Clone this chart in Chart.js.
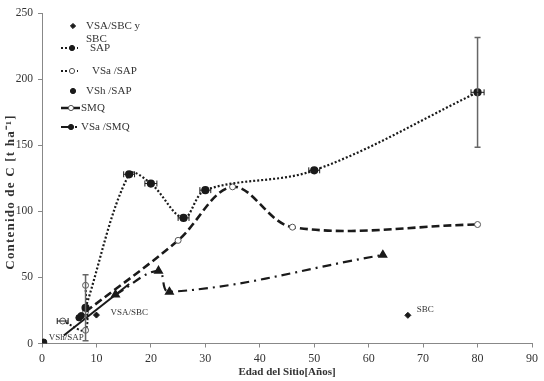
<!DOCTYPE html>
<html>
<head>
<meta charset="utf-8">
<script src="https://cdn.jsdelivr.net/npm/chart.js@4.4.1/dist/chart.umd.min.js"></script>
<style>
  html, body { margin: 0; padding: 0; background: #fff; }
  #wrap { width: 544px; height: 381px; }
</style>
</head>
<body>
<div id="wrap"><canvas id="c" width="544" height="381"></canvas></div>
<script>
  // ---------- Data ----------
  const sbcX = [10, 67.2];
  const sbcY = [21.5, 21.3];

  const trendX = [4, 16];
  const trendY = [6, 45];

  const sapX = [8, 16, 20, 26, 30, 50, 80];
  const sapY = [27, 128, 121, 95, 116, 131, 190];
  const sapErrX = [0, 1, 1.1, 1, 1, 1, 1.2];
  const sapErrY = [25, 0, 0, 0, 0, 0, 41.5];

  const vsaSapX = [3.8, 8, 8];
  const vsaSapY = [17, 10, 44];
  const vsaSapErrX = [1, 0, 0];

  const vshSapX = [0.3, 6.8, 7.2];
  const vshSapY = [1, 19.5, 21];

  const smqX = [8, 25, 35, 46, 80];
  const smqY = [24, 78, 118.5, 88, 90];

  const vsaSmqX = [13.5, 21.4, 23.4, 62.6];
  const vsaSmqY = [37, 55, 39, 67];

  const pointLabels = [
    { text: "VSA/SBC", x: 10, y: 21.5, dx: 14, dy: -2 },
    { text: "VSh/SAP", x: 0.3, y: 1, dx: 5, dy: -5 },
    { text: "SBC", x: 67.2, y: 21.3, dx: 9, dy: -6 }
  ];

  const X_MIN = 0, X_MAX = 90, X_STEP = 10;
  const Y_MIN = 0, Y_MAX = 250, Y_STEP = 50;
  const Y_TITLE = "Contenido de C [t ha⁻¹]";

  const INK = "#1a1a1a";
  const SERIF = "'Liberation Serif', 'Times New Roman', serif";

  const pts = (xs, ys) => xs.map((x, i) => ({ x: x, y: ys[i] }));

  // ---------- Datasets ----------
  const datasets = [
    {
      label: "VSA/SBC y SBC",
      data: pts(sbcX, sbcY),
      showLine: false,
      pointStyle: "rectRot",
      pointRadius: 3,
      pointBackgroundColor: INK,
      pointBorderColor: INK
    },
    {
      label: "trend",
      data: pts(trendX, trendY),
      showLine: true,
      borderColor: INK,
      borderWidth: 2,
      pointRadius: 0
    },
    {
      label: "SAP",
      data: pts(sapX, sapY),
      showLine: true,
      borderColor: INK,
      borderWidth: 2.2,
      borderDash: [2, 2],
      tension: 0.35,
      pointStyle: "circle",
      pointRadius: 3,
      pointBackgroundColor: INK,
      pointBorderColor: INK,
      errX: sapErrX,
      errY: sapErrY
    },
    {
      label: "VSa /SAP",
      data: pts(vsaSapX, vsaSapY),
      showLine: true,
      borderColor: INK,
      borderWidth: 2,
      borderDash: [2, 2],
      tension: 0.3,
      pointStyle: "circle",
      pointRadius: 3,
      pointBackgroundColor: "#fff",
      pointBorderColor: "#555",
      pointBorderWidth: 1,
      errX: vsaSapErrX
    },
    {
      label: "VSh /SAP",
      data: pts(vshSapX, vshSapY),
      showLine: false,
      pointStyle: "circle",
      pointRadius: 3.2,
      pointBackgroundColor: INK,
      pointBorderColor: INK
    },
    {
      label: "SMQ",
      data: pts(smqX, smqY),
      showLine: true,
      borderColor: INK,
      borderWidth: 2.6,
      borderDash: [8, 4],
      tension: 0.35,
      pointStyle: "circle",
      pointRadius: 3,
      pointBackgroundColor: "#fff",
      pointBorderColor: "#555",
      pointBorderWidth: 1
    },
    {
      label: "VSa /SMQ",
      data: pts(vsaSmqX, vsaSmqY),
      showLine: true,
      borderColor: INK,
      borderWidth: 2.2,
      borderDash: [9, 5, 2, 5],
      tension: 0.4,
      pointStyle: "triangle",
      pointRadius: 3.6,
      pointBackgroundColor: INK,
      pointBorderColor: INK,
      legendStyle: "circle"
    }
  ];

  // ---------- Plugins ----------
  const errorBars = {
    id: "errorBars",
    afterDatasetsDraw(chart) {
      const { ctx, scales: { x, y } } = chart;
      ctx.save();
      chart.data.datasets.forEach((ds) => {
        if (!ds.errX && !ds.errY) return;
        ds.data.forEach((p, i) => {
          const px = x.getPixelForValue(p.x);
          const py = y.getPixelForValue(p.y);
          const ey = ds.errY ? ds.errY[i] : 0;
          const ex = ds.errX ? ds.errX[i] : 0;
          if (ey) {
            const t = y.getPixelForValue(p.y + ey);
            const b = y.getPixelForValue(p.y - ey);
            ctx.strokeStyle = "#666";
            ctx.lineWidth = 1.5;
            ctx.beginPath();
            ctx.moveTo(px, t); ctx.lineTo(px, b);
            ctx.moveTo(px - 3, t); ctx.lineTo(px + 3, t);
            ctx.moveTo(px - 3, b); ctx.lineTo(px + 3, b);
            ctx.stroke();
          }
          if (ex) {
            const l = x.getPixelForValue(p.x - ex);
            const r = x.getPixelForValue(p.x + ex);
            ctx.strokeStyle = INK;
            ctx.lineWidth = 1;
            ctx.beginPath();
            ctx.moveTo(l, py); ctx.lineTo(r, py);
            ctx.moveTo(l, py - 3); ctx.lineTo(l, py + 3);
            ctx.moveTo(r, py - 3); ctx.lineTo(r, py + 3);
            ctx.stroke();
          }
        });
      });
      ctx.restore();
    }
  };

  const labelsOnPoints = {
    id: "labelsOnPoints",
    afterDatasetsDraw(chart) {
      const { ctx, scales: { x, y } } = chart;
      ctx.save();
      ctx.font = "9px " + SERIF;
      ctx.fillStyle = "#333";
      ctx.textBaseline = "middle";
      pointLabels.forEach((lb) => {
        ctx.fillText(lb.text, x.getPixelForValue(lb.x) + lb.dx, y.getPixelForValue(lb.y) + lb.dy);
      });
      ctx.restore();
    }
  };

  // y title sits a bit below the middle in the original
  const yTitle = {
    id: "yTitle",
    afterDraw(chart) {
      const ctx = chart.ctx;
      ctx.save();
      ctx.font = "bold 13px " + SERIF;
      ctx.fillStyle = "#333";
      const w = ctx.measureText(Y_TITLE).width;
      const spacing = Math.max(0, Math.min(1.2, (188 - w) / (Y_TITLE.length - 1)));
      ctx.letterSpacing = spacing.toFixed(2) + "px";
      ctx.translate(11, 192);
      ctx.rotate(-Math.PI / 2);
      ctx.textAlign = "center";
      ctx.textBaseline = "middle";
      ctx.fillText(Y_TITLE, 0, 0);
      ctx.restore();
    }
  };

  // legend inside the plot, top-left, like the original
  const insideLegend = {
    id: "insideLegend",
    afterDraw(chart) {
      const ctx = chart.ctx;
      const rows = [
        { ds: 0, y: 26, line: null, mx: 73, tx: 86, lines: ["VSA/SBC y", "SBC"] },
        { ds: 2, y: 48, line: [61, 78], mx: 72, tx: 90, lines: ["SAP"] },
        { ds: 3, y: 71, line: [61, 78], mx: 72, tx: 92, lines: ["VSa /SAP"] },
        { ds: 4, y: 91, line: null, mx: 73, tx: 86, lines: ["VSh /SAP"] },
        { ds: 5, y: 108, line: [61, 80], mx: 71, tx: 81, lines: ["SMQ"] },
        { ds: 6, y: 127, line: [61, 80], mx: 71, tx: 81, lines: ["VSa /SMQ"] }
      ];
      ctx.save();
      rows.forEach((r) => {
        const ds = chart.data.datasets[r.ds];
        if (r.line) {
          ctx.strokeStyle = ds.borderColor;
          ctx.lineWidth = ds.borderWidth;
          ctx.setLineDash(ds.borderDash || []);
          ctx.beginPath();
          ctx.moveTo(r.line[0], r.y);
          ctx.lineTo(r.line[1], r.y);
          ctx.stroke();
          ctx.setLineDash([]);
        }
        ctx.fillStyle = ds.pointBackgroundColor;
        ctx.strokeStyle = ds.pointBorderColor;
        ctx.lineWidth = ds.pointBorderWidth || 1;
        Chart.helpers.drawPoint(ctx, {
          pointStyle: ds.legendStyle || ds.pointStyle,
          radius: 2.6,
          rotation: 0,
          borderWidth: ds.pointBorderWidth || 1
        }, r.mx, r.y);
        ctx.fillStyle = "#333";
        ctx.font = "11px " + SERIF;
        ctx.textBaseline = "middle";
        r.lines.forEach((t, k) => ctx.fillText(t, r.tx, r.y + k * 13));
      });
      ctx.restore();
    }
  };

  // ---------- Chart ----------
  new Chart(document.getElementById("c").getContext("2d"), {
    type: "scatter",
    data: { datasets: datasets },
    plugins: [errorBars, labelsOnPoints, yTitle, insideLegend],
    options: {
      responsive: false,
      animation: false,
      devicePixelRatio: 1,
      layout: { padding: { top: 13, right: 12, left: 0, bottom: 0 } },
      plugins: { legend: { display: false }, tooltip: { enabled: false } },
      scales: {
        x: {
          type: "linear",
          min: X_MIN,
          max: X_MAX,
          afterFit: (s) => { s.height = 37.5; },
          ticks: { stepSize: X_STEP, color: "#333", padding: 4, font: { family: SERIF, size: 12 } },
          grid: { drawOnChartArea: false, tickLength: 4, color: "#888" },
          border: { color: "#888", width: 1 },
          title: { display: true, text: "Edad del Sitio[Años]", color: "#333", padding: { top: 0, bottom: 2 },
                   font: { family: SERIF, size: 11, weight: "bold" } }
        },
        y: {
          type: "linear",
          min: Y_MIN,
          max: Y_MAX,
          afterFit: (s) => { s.width = 42; },
          ticks: { stepSize: Y_STEP, color: "#333", padding: 5, font: { family: SERIF, size: 11.5 } },
          grid: { drawOnChartArea: false, tickLength: 4, color: "#888" },
          border: { color: "#888", width: 1 },
          title: { display: false }
        }
      }
    }
  });
</script>
</body>
</html>
